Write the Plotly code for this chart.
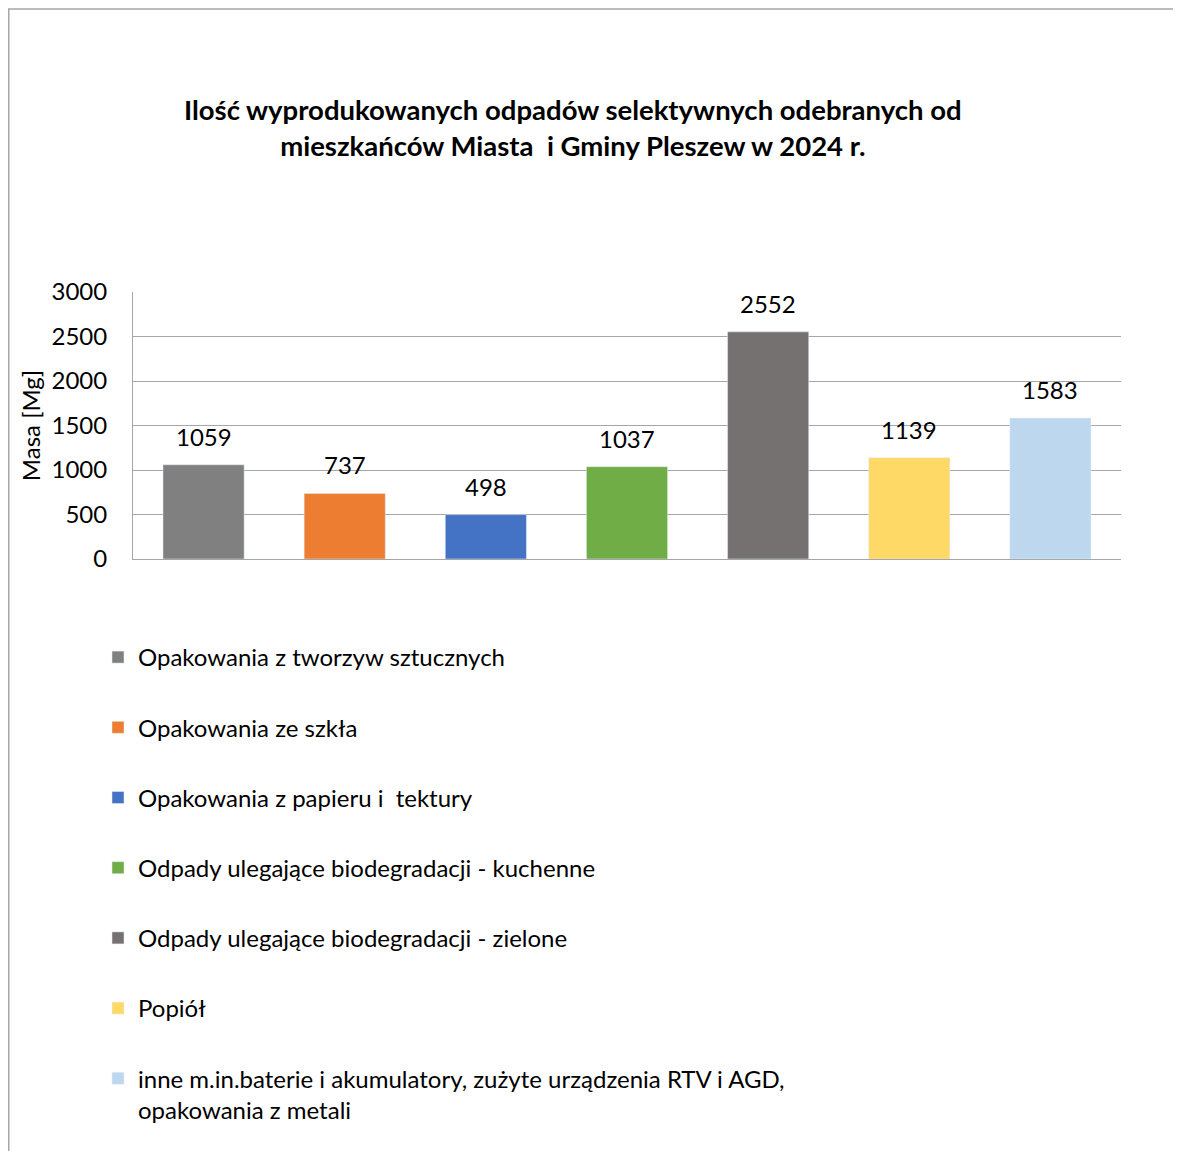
import plotly.graph_objects as go

categories = [
    "Opakowania z tworzyw sztucznych",
    "Opakowania ze szkła",
    "Opakowania z papieru i  tektury",
    "Odpady ulegające biodegradacji - kuchenne",
    "Odpady ulegające biodegradacji - zielone",
    "Popiół",
    "inne m.in.baterie i akumulatory, zużyte urządzenia RTV i AGD,<br>opakowania z metali",
]
values = [1059, 737, 498, 1037, 2552, 1139, 1583]
colors = ["#808080", "#ED7D31", "#4472C4", "#70AD47", "#767171", "#FFD966", "#BDD7EE"]
y_ticks = [0, 500, 1000, 1500, 2000, 2500, 3000]

OFF = 8  # page body margin
W, H = 1181 - OFF, 1151 - OFF
L, T = 133 - OFF, 292 - OFF
pw, ph = 988, 267
R, B = W - L - pw, H - T - ph


def px_x(p):  # page pixel -> paper
    return (p - OFF - L) / pw


def px_y(p):
    return (T + ph - (p - OFF)) / ph


FONT = "Lato"
FS = 24
fig = go.Figure()
for i, (c, v, col) in enumerate(zip(categories, values, colors)):
    fig.add_trace(go.Bar(
        x=[i], y=[v], name=c, marker_color=col, width=0.575,
        legendgroup=f"g{i}", showlegend=True,
    ))
    fig.add_annotation(x=i, y=v, text=str(v), showarrow=False, yanchor="bottom",
                       yshift=12, font=dict(family=FONT, size=FS, color="#000"))

fig.add_annotation(
    xref="paper", yref="paper", x=px_x(573), y=px_y(127),
    text="<b>Ilość wyprodukowanych odpadów selektywnych odebranych od<br>mieszkańców Miasta  i Gminy Pleszew w 2024 r.</b>",
    showarrow=False, xanchor="center", yanchor="middle",
    font=dict(family=FONT, size=27.5, color="#000"),
)

# outer chart border (left and top visible)
fig.add_shape(type="rect", xref="paper", yref="paper",
              x0=px_x(OFF + 0.75), x1=px_x(1200), y0=px_y(1170), y1=px_y(OFF + 1),
              line=dict(color="#a6a6a6", width=1.5), fillcolor="rgba(0,0,0,0)", layer="below")

fig.update_layout(
    width=W, height=H,
    margin=dict(l=L, r=R, t=T, b=B, autoexpand=False),
    paper_bgcolor="white", plot_bgcolor="white",
    barmode="overlay",
    font=dict(family=FONT, size=FS, color="#000"),
    showlegend=True,
    legend=dict(
        orientation="v", x=px_x(98), y=px_y(635), xanchor="left", yanchor="top",
        font=dict(family=FONT, size=FS, color="#000"),
        tracegroupgap=36, valign="top", traceorder="grouped",
        bgcolor="rgba(0,0,0,0)",
    ),
    xaxis=dict(
        range=[-0.5, 6.5], showticklabels=False, showgrid=False, zeroline=False,
        showline=True, linecolor="#a6a6a6", linewidth=1, ticks="",
        fixedrange=True,
    ),
    yaxis=dict(
        range=[0, 3000], tickvals=y_ticks, ticktext=[str(t) for t in y_ticks],
        showgrid=True, gridcolor="#a6a6a6", gridwidth=1, zeroline=False,
        showline=True, linecolor="#a6a6a6", linewidth=1, ticks="",
        ticklabelstandoff=20,
        tickfont=dict(family=FONT, size=FS, color="#000"),
        title=dict(text="Masa [Mg]", standoff=4, font=dict(family=FONT, size=FS, color="#000")),
        automargin=False,
    ),
)

fig.write_html("out.html")
